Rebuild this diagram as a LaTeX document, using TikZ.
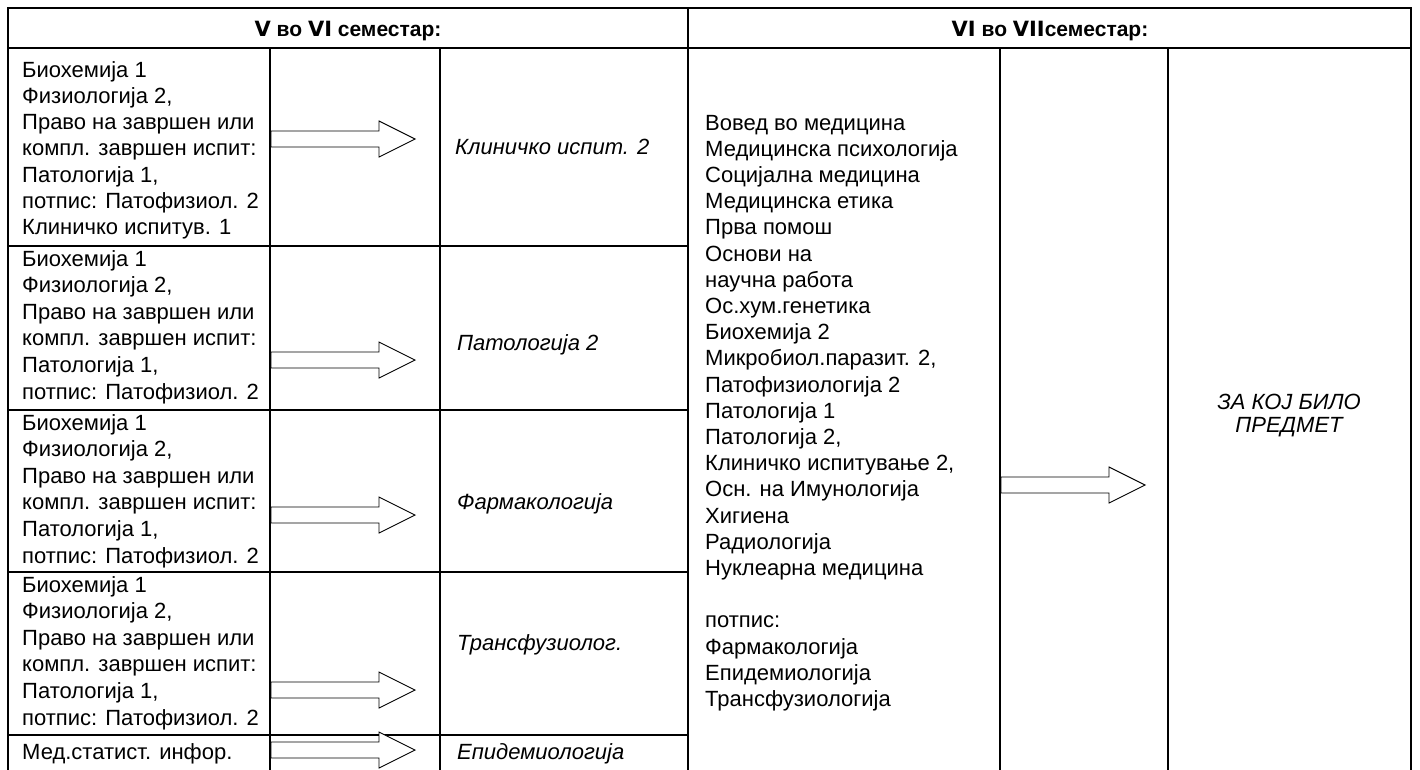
\documentclass[tikz,border=0pt]{standalone}
\usepackage{fontspec}
\setmainfont{Liberation Sans}
\newfontfamily\numfont{DejaVu Sans}
\begin{document}
\begin{tikzpicture}[x=1pt,y=-1pt,
  grid/.style={line width=1.8pt,line cap=rect},
  txt/.style={anchor=base west,inner sep=0pt,font=\fontsize{22}{26}\selectfont},
  lbl/.style={anchor=base west,inner sep=0pt,font=\fontsize{22}{26}\selectfont\itshape},
  lblc/.style={anchor=base,inner sep=0pt,font=\fontsize{22}{26}\selectfont\itshape},
  hdr/.style={anchor=base,inner sep=0pt,font=\fontsize{21}{26}\selectfont\bfseries},
  barrow/.pic={\draw[line width=0.9pt,fill=white,line join=miter]
     (0,-8) -- (108,-8) -- (108,-18) -- (144,0) -- (108,18) -- (108,8) -- (0,8) -- cycle;}]
\useasboundingbox (0,0) rectangle (1420,769);
\fill[white] (0,0) rectangle (1420,769);
% grid
\draw[grid] (8,772) -- (8,8) -- (1411,8) -- (1411,772);
\draw[grid] (8,48) -- (1411,48);
\draw[grid] (688,8) -- (688,772);
\draw[grid] (270,48) -- (270,772);
\draw[grid] (440,48) -- (440,772);
\draw[grid] (1000,48) -- (1000,772);
\draw[grid] (1168,48) -- (1168,772);
\foreach \yy in {246,410,572,735} \draw[grid] (8,\yy) -- (688,\yy);
% headers
\node[hdr] (h1) at (348,36) {{\numfont V} во {\numfont VI} семестар:};
\node[hdr] (h2) at (1050,36) {{\numfont VI} во {\numfont VII}семестар:};
% row 1
\foreach \t [count=\k from 0] in {Биохемија 1,{Физиологија 2,},Право на завршен или,компл. завршен испит:,{Патологија 1,},потпис: Патофизиол. 2,Клиничко испитув. 1}
  \node[txt] (a\k) at (22,77+26.3*\k) {\t};
% rows 2-4
\foreach \r/\b in {b/266,c/430,d/592}
  \foreach \t [count=\k from 0] in {Биохемија 1,{Физиологија 2,},Право на завршен или,компл. завршен испит:,{Патологија 1,},потпис: Патофизиол. 2}
    \node[txt] (\r\k) at (22,\b+26.6*\k) {\t};
\node[txt] (e0) at (22,759) {Мед.статист. инфор.};
% labels
\node[lbl] (l1) at (455,154) {Клиничко испит. 2};
\node[lbl] (l2) at (457,350) {Патологија 2};
\node[lbl] (l3) at (457,509) {Фармакологија};
\node[lbl] (l4) at (457,650) {Трансфузиолог.};
\node[lbl] (l5) at (457,759) {Епидемиологија};
% arrows
\pic at (271,139) {barrow};
\pic at (271,360) {barrow};
\pic at (271,515) {barrow};
\pic at (271,690) {barrow};
\pic at (271,750) {barrow};
\pic at (1001,485) {barrow};
% right column
\foreach \t [count=\k from 0] in {Вовед во медицина,Медицинска психологија,Социјална медицина,Медицинска етика,Прва помош,Основи на,научна работа,Ос.хум.генетика,Биохемија 2,{Микробиол.паразит. 2,},Патофизиологија 2,Патологија 1,{Патологија 2,},{Клиничко испитување 2,},Осн. на Имунологија,Хигиена,Радиологија,Нуклеарна медицина,{},потпис:,Фармакологија,Епидемиологија,Трансфузиологија}
  \node[txt] (m\k) at (705,130+26.2*\k) {\t};
\node[lblc] (z1) at (1289,409) {ЗА КОЈ БИЛО};
\node[lblc] (z2) at (1289,432) {ПРЕДМЕТ};
\end{tikzpicture}
\end{document}
